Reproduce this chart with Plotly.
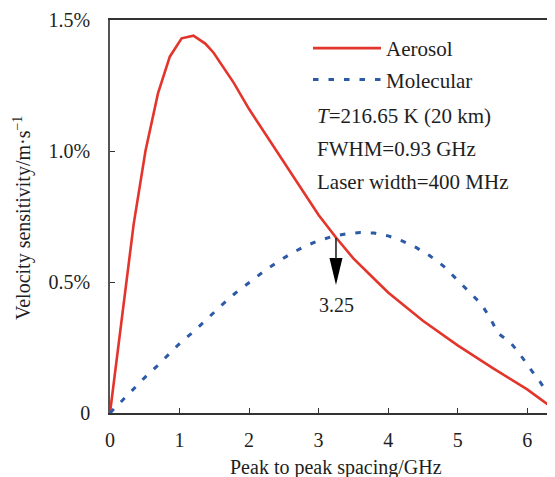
import plotly.graph_objects as go

# ---- data ----
aerosol_x = [0, 0.17, 0.34, 0.51, 0.69, 0.86, 1.03, 1.2, 1.37, 1.49, 1.6, 1.78, 2.0, 2.25, 2.5, 2.75, 3.0, 3.25, 3.5, 3.75, 4.0, 4.5, 5.0, 5.5, 6.0, 6.4]
aerosol_y = [0, 0.37, 0.72, 1.0, 1.22, 1.36, 1.43, 1.44, 1.41, 1.375, 1.33, 1.26, 1.16, 1.06, 0.96, 0.858, 0.756, 0.67, 0.59, 0.525, 0.46, 0.352, 0.258, 0.172, 0.09, 0.012]

molecular_x = [0, 0.17, 0.34, 0.51, 0.68, 0.85, 1.0, 1.2, 1.4, 1.6, 1.8, 2.0, 2.2, 2.4, 2.6, 2.8, 3.0, 3.2, 3.4, 3.6, 3.8, 4.0, 4.2, 4.4, 4.6, 4.8, 5.0, 5.2, 5.34, 5.47, 5.58, 5.76, 5.9, 6.04, 6.18, 6.31, 6.4]
molecular_y = [0, 0.047, 0.09, 0.138, 0.18, 0.224, 0.265, 0.31, 0.362, 0.41, 0.457, 0.498, 0.538, 0.575, 0.608, 0.636, 0.658, 0.674, 0.684, 0.689, 0.687, 0.676, 0.657, 0.632, 0.6, 0.56, 0.508, 0.455, 0.416, 0.361, 0.304, 0.269, 0.223, 0.17, 0.121, 0.068, 0.035]

x_ticks = [0, 1, 2, 3, 4, 5, 6]
y_ticks = [0, 0.5, 1.0, 1.5]
y_tick_labels = ["0", "0.5%", "1.0%", "1.5%"]

cross_x = 3.25          # marked crossing point
arrow_tip_y = 0.4885
label_y = 0.414

info_lines = ["<i>T</i>=216.65 K (20 km)", "FWHM=0.93 GHz", "Laser width=400 MHz"]

FONT = "Liberation Serif"
RED = "#E3352B"
BLUE = "#2C5AA6"
TXT = "#1E1E1E"

# page has an 8px body margin; plot area placed so that it lands where the reference has it
PL, PT, PW, PH = 102, 12, 445, 393
W, H = PL + PW, 469


def py(p):  # window pixel row -> paper y
    return (PT + PH - (p - 8)) / PH


def px(p):  # window pixel column -> paper x
    return ((p - 8) - PL) / PW


fig = go.Figure()
fig.add_trace(go.Scatter(x=aerosol_x, y=aerosol_y, mode="lines", name="Aerosol", legendgroup="a",
                         line=dict(color=RED, width=2.6)))
fig.add_trace(go.Scatter(x=molecular_x, y=molecular_y, mode="lines", name="Molecular", legendgroup="m",
                         line=dict(color=BLUE, width=3.0, dash="5.5px,10px")))

# arrow (shaft + narrow head) anchored at the crossing point
fig.add_shape(type="path", xref="x", yref="y", xsizemode="pixel", ysizemode="pixel",
              xanchor=cross_x, yanchor=arrow_tip_y,
              path="M-6.5,27 L6.5,27 L0,0 Z", fillcolor="black", line=dict(width=0))
fig.add_shape(type="path", xref="x", yref="y", xsizemode="pixel", ysizemode="pixel",
              xanchor=cross_x, yanchor=arrow_tip_y,
              path="M0,26 L0,47", line=dict(color="#222", width=1.6))
fig.add_annotation(x=cross_x, y=label_y, xref="x", yref="y", text="3.25", showarrow=False,
                   font=dict(family=FONT, size=20, color=TXT), xanchor="center", yanchor="middle",
                   xshift=1)

# info text lines
for i, t in enumerate(info_lines):
    fig.add_annotation(x=px(315), y=py(116.5 + 32.5 * i), xref="paper", yref="paper",
                       text=t, showarrow=False, xanchor="left", yanchor="middle",
                       font=dict(family=FONT, size=21, color=TXT))

# axis titles
fig.add_annotation(x=px(336), y=py(467), xref="paper", yref="paper",
                   text="Peak to peak spacing/GHz", showarrow=False, xanchor="center", yanchor="middle",
                   font=dict(family=FONT, size=20, color=TXT))
fig.add_annotation(x=px(23), y=py(218), xref="paper", yref="paper",
                   text="Velocity sensitivity/m·s<sup>−1</sup>", showarrow=False, textangle=-90,
                   xanchor="center", yanchor="middle", font=dict(family=FONT, size=20, color=TXT))

fig.update_layout(
    width=W, height=H,
    margin=dict(l=PL, r=W - PL - PW, t=PT, b=H - PT - PH),
    paper_bgcolor="white", plot_bgcolor="white",
    font=dict(family=FONT, size=20, color=TXT),
    showlegend=True,
    legend=dict(x=px(308), y=py(28), xanchor="left", yanchor="top", traceorder="grouped",
                bgcolor="rgba(0,0,0,0)", itemwidth=68, tracegroupgap=1,
                font=dict(family=FONT, size=21, color=TXT)),
    xaxis=dict(range=[0, 6.4], tickvals=x_ticks, ticks="inside", ticklen=5, tickwidth=1.3,
               tickcolor="#333", showline=True, linecolor="#333", linewidth=1.6, mirror=True,
               showgrid=False, zeroline=False, ticklabelstandoff=8,
               tickfont=dict(family=FONT, size=20, color=TXT)),
    yaxis=dict(range=[0, 1.5], tickvals=y_ticks, ticktext=y_tick_labels, ticks="inside", ticklen=5,
               tickwidth=1.3, tickcolor="#333", showline=True, linecolor="#555", linewidth=1.6,
               showgrid=False, zeroline=False, ticklabelstandoff=14,
               tickfont=dict(family=FONT, size=20, color=TXT)),
)

fig.write_html("out.html")
